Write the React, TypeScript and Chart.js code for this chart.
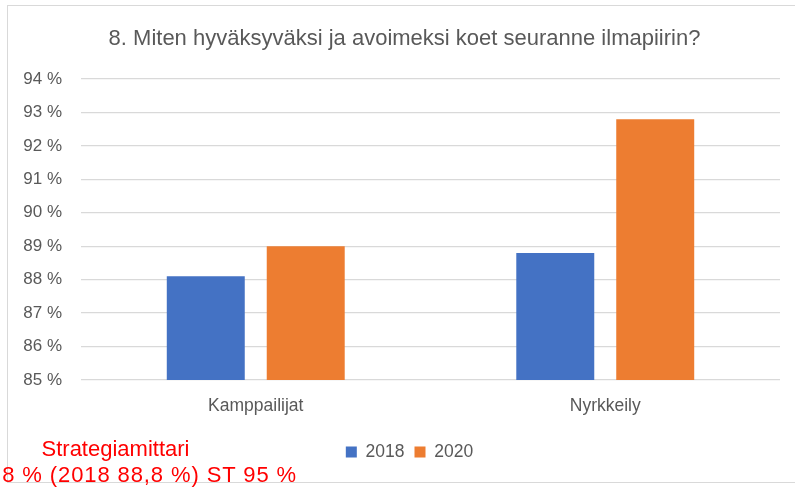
import React, { useEffect, useRef } from "react";
import { Chart, registerables } from "chart.js";

Chart.register(...registerables);

const titleText = "8. Miten hyväksyväksi ja avoimeksi koet seuranne ilmapiirin?";
const categories = ["Kamppailijat", "Nyrkkeily"];
const seriesNames = ["2018", "2020"];
const values2018 = [88.1, 88.8];
const values2020 = [89.0, 92.8];
const yMin = 85;
const yMax = 94;
const yStep = 1;
const noteLine1 = "Strategiamittari";
const noteLine2 = "8 % (2018 88,8 %) ST 95 %";

const FONT = "'Liberation Sans', Arial, sans-serif";
const GREY = "#595959";

export default function App() {
  const ref = useRef<HTMLCanvasElement | null>(null);

  useEffect(() => {
    if (!ref.current) return;
    const shiftBoxes = {
      id: "shiftBoxes",
      afterLayout(chart: any) {
        if (chart.legend) {
          chart.legend.left += 8.5;
          chart.legend.right += 8.5;
        }
        if (chart.titleBlock) {
          chart.titleBlock.left += 3.5;
          chart.titleBlock.right += 3.5;
        }
      },
    };
    const chart = new Chart(ref.current, {
      type: "bar",
      data: {
        labels: categories,
        datasets: [
          {
            label: seriesNames[0],
            data: values2018,
            backgroundColor: "#4472C4",
            categoryPercentage: 0.572,
            barPercentage: 0.78,
          },
          {
            label: seriesNames[1],
            data: values2020,
            backgroundColor: "#ED7D31",
            categoryPercentage: 0.572,
            barPercentage: 0.78,
          },
        ],
      },
      options: {
        responsive: false,
        animation: false,
        devicePixelRatio: 1,
        layout: { padding: { top: 0, left: 22, right: 15, bottom: 17.25 } },
        plugins: {
          title: {
            display: true,
            text: titleText,
            color: GREY,
            font: { family: FONT, size: 22, weight: "normal", lineHeight: 1.2 },
            padding: { top: 26, bottom: 26.6 },
          },
          legend: {
            display: true,
            position: "bottom",
            labels: {
              color: GREY,
              font: { family: FONT, size: 17.5 },
              boxWidth: 11,
              boxHeight: 11,
              padding: 10,
            },
          },
          tooltip: { enabled: false },
        },
        scales: {
          x: {
            grid: { display: false, drawTicks: false },
            border: { display: false },
            ticks: {
              color: GREY,
              font: { family: FONT, size: 17.5 },
              padding: 16,
            },
            afterFit(scale: any) {
              scale.height = 53.25;
            },
          },
          y: {
            min: yMin,
            max: yMax,
            grid: { color: "#d9d9d9", lineWidth: 1.3, drawTicks: false },
            border: { display: false },
            ticks: {
              stepSize: yStep,
              color: GREY,
              font: { family: FONT, size: 17 },
              padding: 19,
              callback: (v: any) => `${v} %`,
            },
            afterFit(scale: any) {
              scale.width = 59;
            },
          },
        },
      },
      plugins: [shiftBoxes],
    });
    return () => chart.destroy();
  }, []);

  return (
    <div
      style={{
        position: "fixed",
        left: 0,
        top: 0,
        width: 795,
        height: 488,
        overflow: "hidden",
        background: "#fff",
      }}
    >
      <div
        style={{
          position: "absolute",
          left: 7,
          top: 5,
          width: 820,
          height: 478,
          boxSizing: "border-box",
          border: "1px solid #d9d9d9",
        }}
      />
      <canvas
        ref={ref}
        width={795}
        height={488}
        style={{ position: "absolute", left: 0, top: 0, width: 795, height: 488 }}
      />
      <div
        style={{
          position: "absolute",
          left: 0,
          width: 231,
          top: 438.4,
          textAlign: "center",
          font: `22px ${FONT}`,
          lineHeight: "22px",
          color: "#FF0000",
          whiteSpace: "nowrap",
        }}
      >
        {noteLine1}
      </div>
      <div
        style={{
          position: "absolute",
          right: 498,
          top: 464.4,
          textAlign: "right",
          font: `22px ${FONT}`,
          lineHeight: "22px",
          letterSpacing: "0.9px",
          color: "#FF0000",
          whiteSpace: "nowrap",
        }}
      >
        {noteLine2}
      </div>
    </div>
  );
}
